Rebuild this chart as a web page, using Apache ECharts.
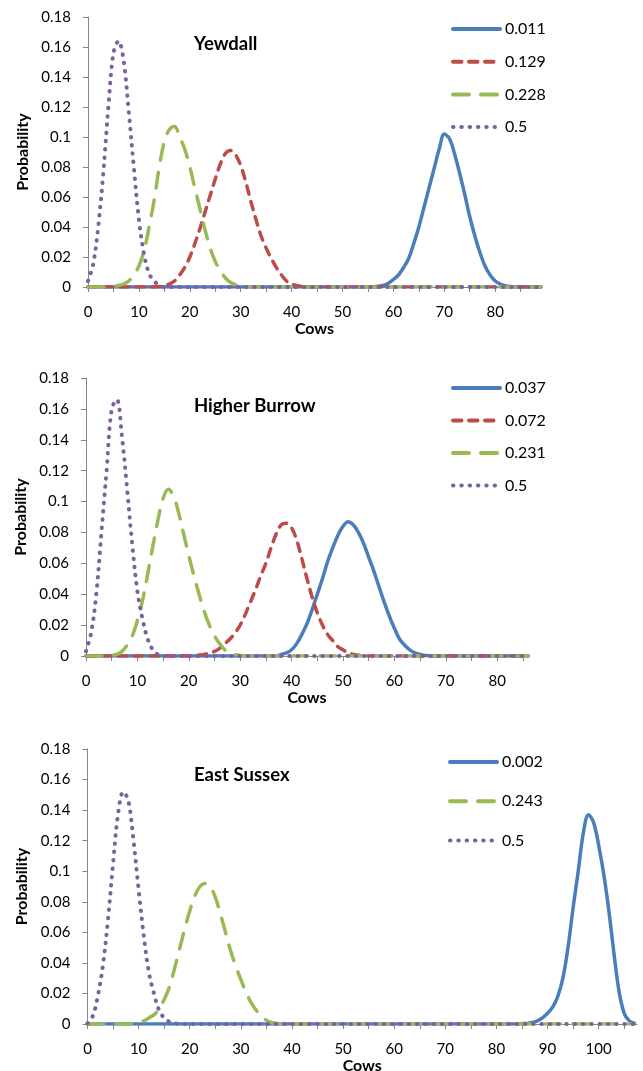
<!DOCTYPE html>
<html>
<head>
<meta charset="utf-8">
<script src="https://cdn.jsdelivr.net/npm/echarts@6/dist/echarts.min.js"></script>
<style>
  html, body { margin: 0; padding: 0; background: #ffffff; }
  #chart { width: 643px; height: 1071px; }
</style>
</head>
<body>
<div id="chart"></div>
<script>
// ---------------- DATA ----------------
// Panel titles and y-axis ticks
const panelTitles = ['Yewdall', 'Higher Burrow', 'East Sussex'];
const yTicks = [0, 0.02, 0.04, 0.06, 0.08, 0.1, 0.12, 0.14, 0.16, 0.18];

// Number of categories (cows = 0 .. n-1) per panel
const yewdallCount = 90;
const higherBurrowCount = 87;
const eastSussexCount = 108;

// Yewdall: probabilities for the non-zero stretch of each curve (start index + values)
const yewdall_011_start = 56;
const yewdall_011 = [0.0002,0.0005,0.001,0.0025,0.005,0.008,0.013,0.019,0.029,0.040,0.053,0.066,0.079,0.092,0.102,0.099,0.089,0.076,0.062,0.047,0.034,0.023,0.014,0.008,0.004,0.002,0.0008,0.0003];
const yewdall_129_start = 14;
const yewdall_129 = [0.0003,0.0008,0.002,0.004,0.008,0.013,0.020,0.029,0.039,0.050,0.061,0.072,0.082,0.089,0.091,0.088,0.081,0.070,0.057,0.045,0.034,0.026,0.019,0.013,0.008,0.004,0.002,0.001,0.0004];
const yewdall_228_start = 5;
const yewdall_228 = [0.0005,0.001,0.002,0.004,0.008,0.014,0.024,0.040,0.058,0.080,0.097,0.105,0.107,0.100,0.092,0.080,0.066,0.052,0.038,0.026,0.017,0.011,0.006,0.003,0.0015,0.0005];
const yewdall_5_start = 0;
const yewdall_5 = [0.004,0.015,0.040,0.076,0.120,0.156,0.164,0.151,0.117,0.080,0.045,0.022,0.009,0.004,0.001];

// Higher Burrow
const higher_037_start = 38;
const higher_037 = [0.001,0.002,0.004,0.008,0.014,0.021,0.030,0.040,0.050,0.061,0.070,0.078,0.084,0.087,0.085,0.080,0.073,0.064,0.055,0.045,0.035,0.026,0.018,0.011,0.007,0.004,0.002,0.001,0.0004];
const higher_072_start = 21;
const higher_072 = [0.0003,0.0006,0.001,0.002,0.003,0.005,0.008,0.011,0.015,0.020,0.027,0.035,0.043,0.052,0.060,0.070,0.079,0.085,0.086,0.083,0.075,0.063,0.050,0.038,0.028,0.020,0.014,0.010,0.006,0.004,0.002,0.001,0.0005];
const higher_231_start = 5;
const higher_231 = [0.0005,0.001,0.003,0.007,0.013,0.023,0.036,0.053,0.071,0.088,0.102,0.108,0.104,0.093,0.079,0.065,0.052,0.040,0.029,0.020,0.013,0.008,0.004,0.002,0.001,0.0004];
const higher_5_start = 0;
const higher_5 = [0.003,0.015,0.040,0.080,0.120,0.160,0.166,0.142,0.108,0.072,0.042,0.024,0.011,0.004,0.001];

// East Sussex
const sussex_002_start = 85;
const sussex_002 = [0.0002,0.0004,0.001,0.002,0.004,0.007,0.011,0.018,0.030,0.050,0.076,0.100,0.125,0.137,0.132,0.117,0.098,0.074,0.046,0.021,0.007,0.002,0.0005];
const sussex_243_start = 9;
const sussex_243 = [0.0003,0.0008,0.002,0.004,0.006,0.010,0.016,0.024,0.036,0.049,0.062,0.074,0.084,0.090,0.092,0.090,0.083,0.072,0.060,0.048,0.038,0.029,0.021,0.014,0.009,0.005,0.0025,0.001,0.0004];
const sussex_5_start = 0;
const sussex_5 = [0.0005,0.005,0.018,0.038,0.068,0.105,0.138,0.152,0.146,0.120,0.088,0.058,0.034,0.020,0.009,0.004,0.0015,0.0005];

// Legend labels
const yewdallLegend = ['0.011', '0.129', '0.228', '0.5'];
const higherLegend = ['0.037', '0.072', '0.231', '0.5'];
const sussexLegend = ['0.002', '0.243', '0.5'];

// ---------------- BUILD ----------------
function curve(start, vals, count) {
  const out = [];
  for (let i = 0; i < count; i++) {
    const k = i - start;
    out.push([i, (k >= 0 && k < vals.length) ? vals[k] : 0]);
  }
  return out;
}

const FONT = 'Lato, "Open Sans", sans-serif';
const AXIS_COLOR = '#868686';
const STYLE = {
  blue:   { color: '#4A7EBB', type: 'solid', width: 3.5, cap: 'round' },
  red:    { color: '#BE4B48', type: [8.5, 7.5], width: 3.5, cap: 'round' },
  green:  { color: '#98B954', type: [16, 12], width: 3.5, cap: 'round' },
  purple: { color: '#7D60A0', type: [0.5, 7.8], width: 4, cap: 'round' }
};

const panels = [
  { left: 88, top: 17, width: 453, height: 270, max: 89, count: yewdallCount,
    legendLeft: 451, legendTop: 21, legendGap: 16.7,
    series: [
      ['0.011', 'blue', yewdall_011_start, yewdall_011],
      ['0.129', 'red', yewdall_129_start, yewdall_129],
      ['0.228', 'green', yewdall_228_start, yewdall_228],
      ['0.5', 'purple', yewdall_5_start, yewdall_5]
    ], legend: yewdallLegend, titleTop: 34 },
  { left: 86, top: 378, width: 442, height: 278, max: 86, count: higherBurrowCount,
    legendLeft: 451, legendTop: 380, legendGap: 16.5,
    series: [
      ['0.037', 'blue', higher_037_start, higher_037],
      ['0.072', 'red', higher_072_start, higher_072],
      ['0.231', 'green', higher_231_start, higher_231],
      ['0.5', 'purple', higher_5_start, higher_5]
    ], legend: higherLegend, titleTop: 396 },
  { left: 87.5, top: 749, width: 549.5, height: 275, max: 107.5, count: eastSussexCount,
    legendLeft: 448, legendTop: 754, legendGap: 23.2,
    series: [
      ['0.002', 'blue', sussex_002_start, sussex_002],
      ['0.243', 'green', sussex_243_start, sussex_243],
      ['0.5', 'purple', sussex_5_start, sussex_5]
    ], legend: sussexLegend, titleTop: 765 }
];

const option = {
  backgroundColor: '#ffffff',
  animation: false,
  title: [], grid: [], xAxis: [], yAxis: [], legend: [], series: []
};

panels.forEach((p, idx) => {
  option.grid.push({ left: p.left, top: p.top, width: p.width, height: p.height,
                     containLabel: false, outerBoundsMode: 'none' });
  option.title.push({
    text: panelTitles[idx], left: 194, top: p.titleTop - 1, padding: 0,
    textStyle: { fontFamily: FONT, fontSize: 18.5, fontWeight: 'bold', color: '#000', lineHeight: 22 }
  });
  const xTicks = [], xLabels = [];
  for (let v = 0; v <= p.max; v += 5) { xTicks.push(v); if (v % 10 === 0) xLabels.push(v); }
  option.xAxis.push({
    type: 'value', gridIndex: idx, min: 0, max: p.max,
    name: 'Cows', nameLocation: 'middle', nameGap: 30,
    nameTextStyle: { fontFamily: FONT, fontSize: 16, fontWeight: 'bold', color: '#000' },
    axisLine: { show: true, onZero: false, lineStyle: { color: AXIS_COLOR, width: 1 } },
    axisTick: { show: true, inside: false, length: 5, customValues: xTicks,
                lineStyle: { color: AXIS_COLOR, width: 1 } },
    axisLabel: { show: true, customValues: xLabels, margin: 18,
                 fontFamily: FONT, fontSize: 15, color: '#000' },
    splitLine: { show: false }
  });
  option.yAxis.push({
    type: 'value', gridIndex: idx, min: 0, max: 0.18, interval: 0.02,
    name: 'Probability', nameLocation: 'middle', nameGap: 57,
    nameTextStyle: { fontFamily: FONT, fontSize: 16, fontWeight: 'bold', color: '#000' },
    axisLine: { show: true, lineStyle: { color: AXIS_COLOR, width: 1 } },
    axisTick: { show: true, inside: false, length: 5, lineStyle: { color: AXIS_COLOR, width: 1 } },
    axisLabel: { show: true, margin: 17, fontFamily: FONT, fontSize: 15, color: '#000',
                 customValues: yTicks,
                 formatter: v => String(Math.round(v * 100) / 100) },
    splitLine: { show: false }
  });
  option.legend.push({
    orient: 'vertical', left: p.legendLeft, top: p.legendTop, padding: 0,
    itemWidth: 47, itemHeight: 14, itemGap: p.legendGap,
    data: p.legend,
    selectedMode: false,
    itemStyle: { opacity: 0 },
    lineStyle: { width: 4 },
    textStyle: { fontFamily: FONT, fontSize: 16, color: '#000', lineHeight: 16 }
  });
  p.series.forEach(s => {
    const st = STYLE[s[1]];
    option.series.push({
      name: s[0], type: 'line', xAxisIndex: idx, yAxisIndex: idx,
      data: curve(s[2], s[3], p.count),
      smooth: 0.35, symbol: 'none', showSymbol: false,
      color: st.color,
      lineStyle: { color: st.color, width: st.width, type: st.type, cap: st.cap, join: 'round' },
      emphasis: { disabled: true }
    });
  });
});

const chart = echarts.init(document.getElementById('chart'), null, { renderer: 'canvas' });
chart.setOption(option);
</script>
</body>
</html>
